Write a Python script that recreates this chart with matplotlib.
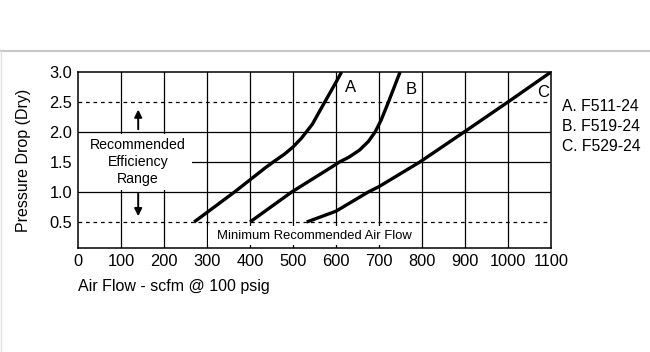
import matplotlib
matplotlib.use('Agg')
import matplotlib.pyplot as plt
from matplotlib.patches import Rectangle
from matplotlib.lines import Line2D

plt.rcParams['font.family'] = ['Liberation Sans', 'DejaVu Sans']

# 读图得到的曲线数据 (scfm, psi)
a_flow = [270, 364, 435, 454, 480, 500, 520, 545, 570, 600, 613]
a_drop = [0.5, 1.0, 1.4, 1.5, 1.63, 1.75, 1.9, 2.13, 2.45, 2.83, 3.0]
b_flow = [400, 497, 593, 608, 630, 655, 675, 691, 705, 722, 749]
b_drop = [0.5, 1.0, 1.43, 1.5, 1.58, 1.7, 1.84, 2.0, 2.2, 2.5, 3.0]
c_flow = [532, 600, 675, 700, 795, 898, 1000, 1100]
c_drop = [0.5, 0.68, 1.0, 1.09, 1.5, 2.0, 2.5, 3.0]

curve_labels = ['A', 'B', 'C']
label_pos = [(633, 2.74), (774, 2.7), (1081, 2.65)]
legend_lines = ['A. F511-24', 'B. F519-24', 'C. F529-24']

x_ticks = list(range(0, 1200, 100))
y_ticks = [0.5, 1.0, 1.5, 2.0, 2.5, 3.0]

fig = plt.figure(figsize=(6.5, 3.52), dpi=100)
ax = fig.add_axes([0.12, 0.2955, 0.7277, 0.5])
ax.set_xlim(0, 1100)
ax.set_ylim(0.067, 3.0)

# 网格
for x in x_ticks[1:-1]:
    ax.axvline(x, color='black', lw=0.9, zorder=1)
for y in [1.0, 1.5, 2.0]:
    ax.axhline(y, color='black', lw=0.9, zorder=1)
for y in [0.5, 2.5]:
    ax.axhline(y, color='black', lw=0.9, ls=(0, (3, 3)), zorder=1)

# 文字后面的白框
ax.add_patch(Rectangle((0, 1.04), 265, 0.92, facecolor='white', edgecolor='none', zorder=2))
ax.add_patch(Rectangle((303, 0.12), 494, 0.31, facecolor='white', edgecolor='none', zorder=2))

for fx, fy in [(a_flow, a_drop), (b_flow, b_drop), (c_flow, c_drop)]:
    ax.plot(fx, fy, color='black', lw=2.4, zorder=4, solid_capstyle='butt', solid_joinstyle='round')

for lab, (x, y) in zip(curve_labels, label_pos):
    ax.text(x, y, lab, fontsize=12, ha='center', va='center', zorder=5)

ax.text(140, 1.5, 'Recommended\nEfficiency\nRange', fontsize=10.2, ha='center', va='center',
        linespacing=1.25, zorder=5)
ax.annotate('', xy=(140, 2.42), xytext=(140, 2.0),
            arrowprops=dict(arrowstyle='-|>', color='black', lw=1.4, mutation_scale=11), zorder=5)
ax.annotate('', xy=(140, 0.55), xytext=(140, 1.02),
            arrowprops=dict(arrowstyle='-|>', color='black', lw=1.4, mutation_scale=11), zorder=5)
ax.text(549, 0.27, 'Minimum Recommended Air Flow', fontsize=9.4, ha='center', va='center', zorder=5)

for i, t in enumerate(legend_lines):
    ax.text(1125, 2.42 - i * 0.335, t, fontsize=11.3, ha='left', va='center', clip_on=False)

ax.set_xticks(x_ticks)
ax.set_xticklabels([str(x) for x in x_ticks])
ax.set_yticks(y_ticks)
ax.set_yticklabels(['%.1f' % y for y in y_ticks])
ax.tick_params(length=0, labelsize=11.8, pad=4)
for s in ax.spines.values():
    s.set_linewidth(1.1)

ax.set_ylabel('Pressure Drop (Dry)', fontsize=11.5)
ax.yaxis.set_label_coords(-0.1, 0.5)
fig.text(0.12, 0.185, 'Air Flow - scfm @ 100 psig', fontsize=11.5, ha='left', va='center')

# 外框灰线
fig.add_artist(Line2D([0, 1], [1 - 51 / 352, 1 - 51 / 352], color='#c8c8c8', lw=1.5))
fig.add_artist(Line2D([0.001, 0.001], [0, 1 - 51 / 352], color='#e0e0e0', lw=1.0))

plt.savefig('out.png', dpi=100)
